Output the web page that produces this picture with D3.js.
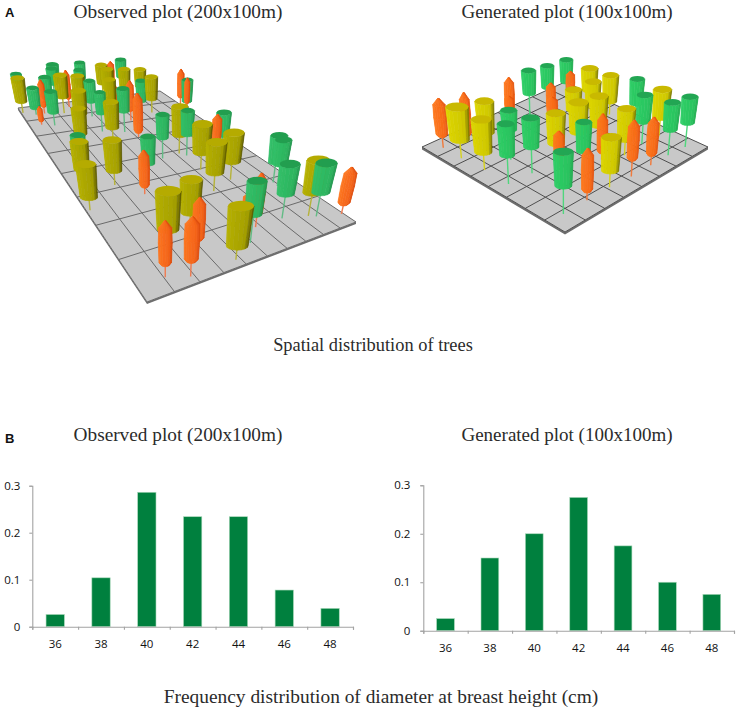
<!DOCTYPE html>
<meta charset="utf-8">
<style>
body { margin: 0; background: #fff; }
.title { font-family: "Liberation Serif"; font-size: 19.3px; fill: #2b2b2b; }
.panel { font-family: "Liberation Sans"; font-size: 13px; font-weight: bold; fill: #111; }
.axis text { font-family: "Open Sans"; font-size: 11.5px; fill: #111; }
.axis path, .axis line { stroke: #a3a3a3; stroke-width: 1.1px; fill: none; }
</style>
<svg width="737" height="712"></svg>
<script src="https://d3js.org/d3.v7.min.js"></script>
<script>
// bar charts, diameter classes and relative frequency
var dbhClasses = ["36", "38", "40", "42", "44", "46", "48"];
var observedFreq = [0.026, 0.104, 0.286, 0.234, 0.234, 0.078, 0.039];
var generatedFreq = [0.025, 0.15, 0.2, 0.275, 0.175, 0.1, 0.075];
var freqTicks = [0, 0.1, 0.2, 0.3];

// trees, y / g / o is the crown colour. u, v are metres on the plot,
// trunk, crown and width are model heights seen at the near corner
var obsType = "oooyyygoogggygoyyyoggyggoyyygyogoyyyggyoyyogyygyogoyoggoogyggggg".split("");
var obsU = [21,37,54,33,58,76,98,115,107,144,177,178,168,174,198,142,115,126,156,172,129,124,102,75,55,37,3,10,24,74,102,93,114,36,53,69,70,75,100,106,116,116,135,152,140,160,139,150,197,205,205,47,59,26,33,25,13,15,2,13,61,53,98,88];
var obsV = [4,2,7,9,12,2,5,9,10,9,21,23,7,6,4,29,26,37,42,45,46,48,47,41,32,39,31,41,55,65,63,68,76,63,77,91,71,84,84,84,97,103,107,108,97,95,82,80,82,81,81,90,95,81,95,92,83,92,95,115,114,107,113,106];
var obsTrunk = [13,16,16,31,32,16,35,15,17,33,33,31,32,33,13,28,27,27,22,26,35,31,34,15,10,21,17,26,21,19,8,38,19,22,24,23,33,29,23,20,25,26,23,27,24,26,22,28,19,11,7,32,17,24,23,13,6,13,22,25,22,28,23,25];
var obsCrown = [48,49,50,44,40,46,41,55,27,40,37,41,44,40,52,44,44,45,49,39,40,48,38,41,52,44,43,39,19,45,70,41,58,42,42,45,38,40,45,37,41,40,42,39,39,37,41,45,60,46,54,42,57,38,41,52,27,38,45,16,35,32,35,29];
var obsWidth = [15,17,15,30,28,30,25,15,13,28,26,27,32,30,19,32,31,32,16,26,23,28,22,23,15,27,27,26,24,27,17,23,14,25,28,27,20,22,25,10,26,26,15,25,26,26,22,26,14,24,11,27,13,23,24,12,9,23,26,24,27,24,24,22];

var genType = ["o","o","y","y","y","o","o","g","g","g","g","g","g","o","o","o","y","o","g","g","o","y","o","y","y","y","y","y","y","y","o","o","g","g","y","g","g"];
var genU = [7,20,7,8,21,49,46,23,8,22,59,73,88,59,55,83,37,35,9,38,24,39,54,51,64,65,79,87,90,65,53,67,92,79,91,80,92];
var genV = [92,89,78,62,75,89,86,60,45,44,85,86,87,69,64,79,43,39,10,26,10,10,29,42,41,59,59,69,57,24,9,9,41,25,24,9,8];
var genTrunk = [13,6,21,20,20,12,16,34,31,29,28,24,19,24,22,15,21,11,29,26,9,18,8,23,21,24,20,23,16,18,18,11,24,26,22,29,28];
var genCrown = [44,50,37,36,36,40,18,22,34,32,28,27,28,29,21,27,34,29,35,32,46,36,44,34,34,24,27,27,32,35,44,43,30,31,33,31,30];
var genWidth = [15,12,26,23,22,12,11,19,19,20,18,17,17,11,13,11,22,12,21,18,13,22,12,23,22,20,20,21,20,21,13,13,18,19,22,19,19];

var svg = d3.select("svg");

var defs = svg.append("defs");
defs.append("filter").attr("id", "soft")
  .append("feGaussianBlur").attr("stdDeviation", 0.5);

// square to quad mapping for the plot plane
function homography(q) {
  var dx1 = q[1][0] - q[2][0], dx2 = q[3][0] - q[2][0], sx = q[0][0] - q[1][0] + q[2][0] - q[3][0];
  var dy1 = q[1][1] - q[2][1], dy2 = q[3][1] - q[2][1], sy = q[0][1] - q[1][1] + q[2][1] - q[3][1];
  var z = dx1 * dy2 - dx2 * dy1;
  var g = (sx * dy2 - dx2 * sy) / z, h = (dx1 * sy - sx * dy1) / z;
  return function(s, t) {
    var w = g * s + h * t + 1;
    return {
      x: ((q[1][0] - q[0][0] + g * q[1][0]) * s + (q[3][0] - q[0][0] + h * q[3][0]) * t + q[0][0]) / w,
      y: ((q[1][1] - q[0][1] + g * q[1][1]) * s + (q[3][1] - q[0][1] + h * q[3][1]) * t + q[0][1]) / w,
      k: 1 / w
    };
  };
}

function drawPlot(opts) {
  var g = svg.append("g").attr("filter", "url(#soft)");
  var H = homography(opts.corners);
  var u = d3.scaleLinear().domain([0, opts.sizeU]).range([0, 1]);
  var v = d3.scaleLinear().domain([0, opts.sizeV]).range([0, 1]);
  var ground = function(a, b) { return H(u(a), v(b)); };
  var line = d3.line().x(function(d) { return d.x; }).y(function(d) { return d.y; });

  var outline = [ground(0, 0), ground(opts.sizeU, 0), ground(opts.sizeU, opts.sizeV), ground(0, opts.sizeV)];
  // slab edge under the near sides
  g.append("path")
    .attr("d", line([outline[3], outline[0], outline[1],
      {x: outline[1].x, y: outline[1].y + opts.slab},
      {x: outline[0].x, y: outline[0].y + opts.slab},
      {x: outline[3].x, y: outline[3].y + opts.slab}]) + "Z")
    .attr("fill", "#6e6e6e");
  g.append("path")
    .attr("d", line(outline) + "Z")
    .attr("fill", "#c8c8c8");

  d3.range(0, opts.sizeU + 0.1, opts.sizeU / opts.cellsU).forEach(function(a) {
    g.append("path").attr("d", line([ground(a, 0), ground(a, opts.sizeV)]))
      .attr("stroke", opts.gridColor).attr("stroke-width", 1).attr("fill", "none");
  });
  d3.range(0, opts.sizeV + 0.1, opts.sizeV / opts.cellsV).forEach(function(b) {
    g.append("path").attr("d", line([ground(0, b), ground(opts.sizeU, b)]))
      .attr("stroke", opts.gridColor).attr("stroke-width", 1).attr("fill", "none");
  });

  var shade = {};
  Object.keys(opts.colors).forEach(function(key) {
    shade[key] = d3.scaleLinear().domain([0, 0.68, 1]).range(opts.colors[key].side);
  });

  var trees = opts.type.map(function(t, i) {
    var p = ground(opts.u[i], opts.v[i]);
    return {type: t, p: p, trunk: opts.trunk[i], crown: opts.crown[i], width: opts.width[i]};
  });
  // far trees first, lower on the page means nearer
  trees.sort(function(a, b) { return a.p.y - b.p.y; });

  var facets = 8, squash = 0.4;
  trees.forEach(function(d) {
    var k = d.p.k, col = opts.colors[d.type];
    var lean = (d.p.x - opts.vanish[0]) / (opts.vanish[1] - d.p.y);
    var at = function(h) { return {x: d.p.x + lean * h, y: d.p.y - h}; };
    var trunkTop = d.trunk * k, crownLen = d.crown * k, r = d.width * k / 2;

    g.append("path").attr("d", line([at(0), at(trunkTop + 3)]))
      .attr("stroke", col.trunk).attr("stroke-width", 1.4).attr("fill", "none");

    // height fraction and radius fraction down the crown
    var profile = d.type === "o"
      ? [[0, 0.55], [0.07, 0.9], [0.5, 1], [0.84, 0.95], [1, 0.1]]
      : [[0, 0.84], [1, 1]];
    var ring = function(row, j) {
      var a = -Math.PI / 2 + Math.PI * j / facets;
      var c = at(trunkTop + crownLen * row[0]), rr = r * row[1];
      return {x: c.x + rr * Math.sin(a), y: c.y + rr * squash * Math.cos(a)};
    };
    for (var s = 0; s < profile.length - 1; s++) {
      for (var j = 0; j < facets; j++) {
        var fill = shade[d.type]((j + 0.5) / facets);
        g.append("path")
          .attr("d", line([ring(profile[s], j), ring(profile[s], j + 1), ring(profile[s + 1], j + 1), ring(profile[s + 1], j)]) + "Z")
          .attr("fill", fill).attr("stroke", fill).attr("stroke-width", 0.6);
      }
    }
    if (d.type !== "o") {
      var c = at(trunkTop + crownLen);
      g.append("ellipse").attr("cx", c.x).attr("cy", c.y)
        .attr("rx", r).attr("ry", r * squash).attr("fill", col.cap);
    }
  });
}

drawPlot({
  corners: [[147, 302], [356, 222], [160, 91], [18, 108]],
  sizeU: 200, sizeV: 100, cellsU: 10, cellsV: 8,
  slab: 2, gridColor: "#6a6a6a", vanish: [165, 1000],
  type: obsType, u: obsU, v: obsV, trunk: obsTrunk, crown: obsCrown, width: obsWidth,
  colors: {
    y: {side: ["#bab500", "#a5a000", "#4e4c00"], cap: "#b5ab00", trunk: "#b5b23a"},
    g: {side: ["#33c26a", "#2db55f", "#1f8f49"], cap: "#249e50", trunk: "#62bb85"},
    o: {side: ["#ff7a22", "#f4641a", "#d8480c"], cap: "#ee5a14", trunk: "#ee7a50"}
  }
});

drawPlot({
  corners: [[565, 232], [708, 147], [565, 82], [422, 147]],
  sizeU: 100, sizeV: 100, cellsU: 8, cellsV: 8,
  slab: 2.5, gridColor: "#4f4f4f", vanish: [565, 1360],
  type: genType, u: genU, v: genV, trunk: genTrunk, crown: genCrown, width: genWidth,
  colors: {
    y: {side: ["#e0d800", "#cfc800", "#6c6900"], cap: "#c9b900", trunk: "#d6d21e"},
    g: {side: ["#2fd168", "#2bc45f", "#1fa64e"], cap: "#22a652", trunk: "#4fd67c"},
    o: {side: ["#ff7d20", "#f76a18", "#e0500e"], cap: "#f06010", trunk: "#f07a3c"}
  }
});

// frequency bars
function drawBars(values, left, right, top, zero, pad) {
  var g = svg.append("g");
  var x = d3.scaleBand().domain(dbhClasses).range([left, right]).paddingInner(0.6).paddingOuter(0.3);
  var edge = d3.scaleLinear().domain([0, dbhClasses.length]).range([left, right]);
  var y = d3.scaleLinear().domain([0, 0.3]).range([zero, top]);

  g.selectAll("rect").data(values).enter().append("rect")
    .attr("x", function(d, i) { return x(dbhClasses[i]); })
    .attr("y", function(d) { return y(d); })
    .attr("width", x.bandwidth())
    .attr("height", function(d) { return zero - y(d); })
    .attr("fill", "#00803e")
    .attr("stroke", "#a9d8ba")
    .attr("stroke-width", 0.6);

  g.append("g").attr("class", "axis")
    .attr("transform", "translate(" + left + ",0)")
    .call(d3.axisLeft(y).tickValues(freqTicks).tickSize(3).tickPadding(pad)
      .tickFormat(function(d) { return d === 0 ? "0" : d3.format(".1f")(d); }));

  var xAxis = g.append("g").attr("class", "axis").attr("transform", "translate(0," + zero + ")");
  xAxis.call(d3.axisBottom(edge).tickValues(d3.range(0, dbhClasses.length + 1)).tickSize(3).tickFormat(""));
  g.append("g").attr("class", "axis").attr("transform", "translate(0," + zero + ")")
    .call(d3.axisBottom(x).tickSize(0).tickPadding(13))
    .select(".domain").remove();
}

drawBars(observedFreq, 32.3, 353, 485.7, 626.7, 9);
drawBars(generatedFreq, 423.3, 734, 485.3, 630.7, 10);

var titles = [
  ["Observed plot (200x100m)", 178, 17.5, 19.3],
  ["Generated plot (100x100m)", 567, 17.5, 19],
  ["Spatial distribution of trees", 373, 351, 18.4],
  ["Observed plot (200x100m)", 178, 441, 19.3],
  ["Generated plot (100x100m)", 567, 441, 19],
  ["Frequency distribution of diameter at breast height (cm)", 381, 703, 19.4]
];
svg.selectAll(".title").data(titles).enter().append("text")
  .attr("class", "title")
  .attr("text-anchor", "middle")
  .attr("x", function(d) { return d[1]; })
  .attr("y", function(d) { return d[2]; })
  .style("font-size", function(d) { return d[3] + "px"; })
  .text(function(d) { return d[0]; });

svg.append("text").attr("class", "panel").attr("x", 5).attr("y", 17).text("A");
svg.append("text").attr("class", "panel").attr("x", 5).attr("y", 443).text("B");
</script>
